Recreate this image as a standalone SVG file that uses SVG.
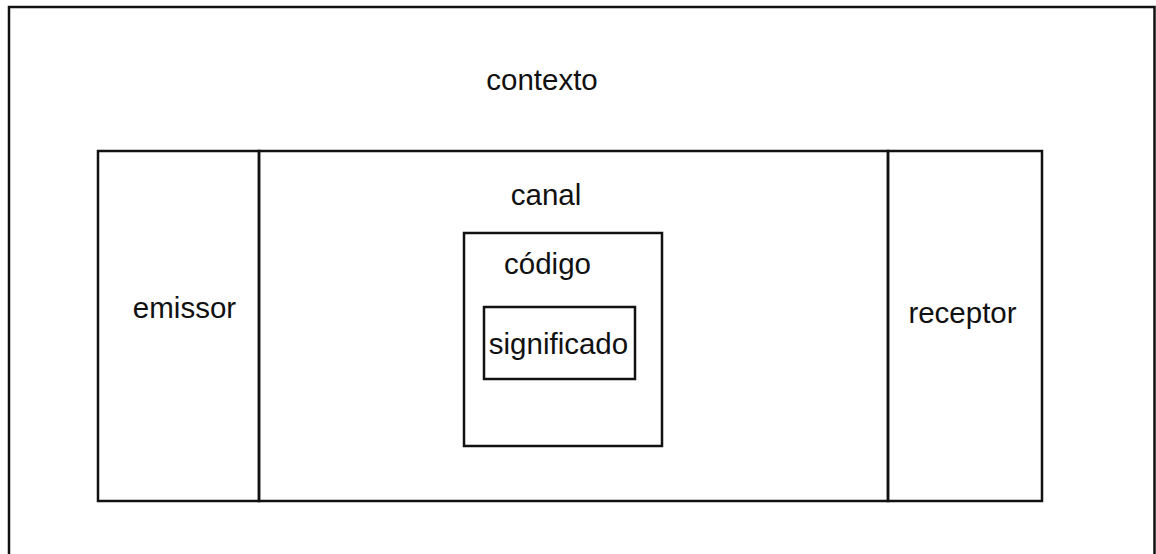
<svg xmlns="http://www.w3.org/2000/svg" width="1156" height="554" viewBox="0 0 1156 554">
  <style>
    .box { fill: none; stroke: #111; stroke-width: 2.5; }
    .lbl { font-family: "Liberation Sans", Arial, sans-serif; font-size: 29.5px; fill: #111; text-anchor: middle; }
  </style>
  <rect x="0" y="0" width="1156" height="554" fill="#fff"/>

  <!-- outer frame: context -->
  <g id="contexto">
    <rect class="box" x="9" y="7" width="1145.5" height="600"/>
    <text class="lbl" x="542" y="90">contexto</text>
  </g>

  <!-- sender panel -->
  <g id="emissor">
    <rect class="box" x="98" y="151" width="161" height="350"/>
    <text class="lbl" x="184.5" y="318">emissor</text>
  </g>

  <!-- channel panel -->
  <g id="canal">
    <rect class="box" x="259" y="151" width="629" height="350"/>
    <text class="lbl" x="546" y="205">canal</text>
  </g>

  <!-- receiver panel -->
  <g id="receptor">
    <rect class="box" x="888" y="151" width="154" height="350"/>
    <text class="lbl" x="962.5" y="323">receptor</text>
  </g>

  <!-- code box inside channel -->
  <g id="codigo">
    <rect class="box" x="464" y="233" width="198" height="213"/>
    <text class="lbl" x="547.5" y="274">código</text>
  </g>

  <!-- meaning box inside code -->
  <g id="significado">
    <rect class="box" x="484" y="307" width="151" height="72"/>
    <text class="lbl" x="558.5" y="354">significado</text>
  </g>
</svg>
